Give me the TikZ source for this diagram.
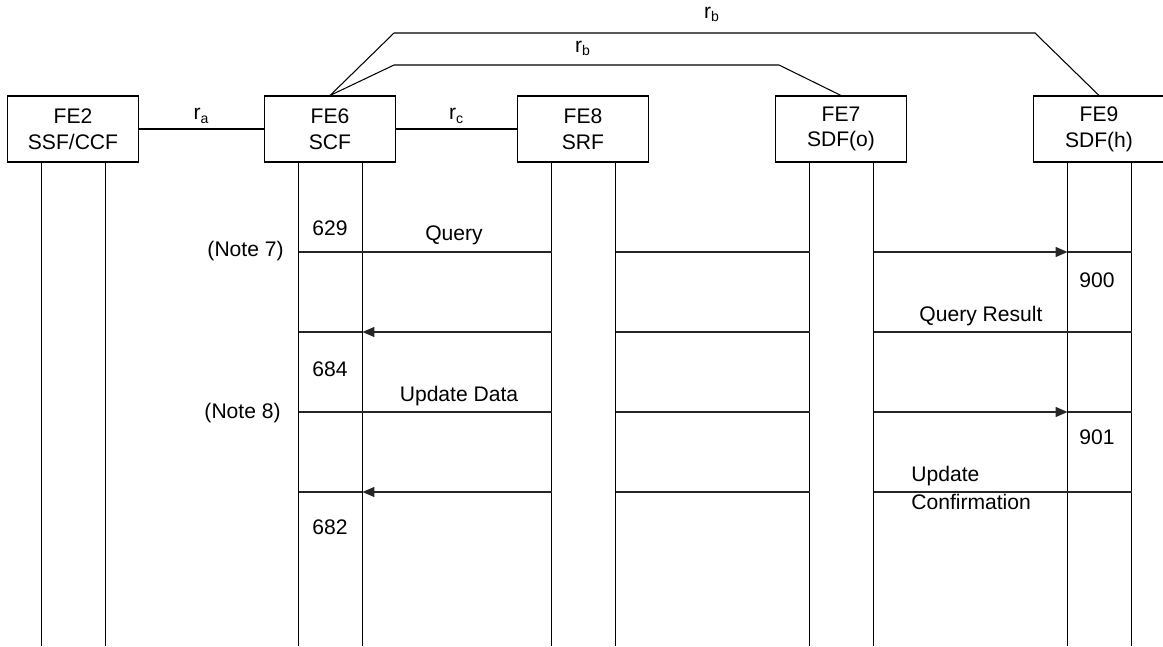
\documentclass[tikz,border=0pt]{standalone}
\usepackage{fontspec}
\setmainfont{Liberation Sans}
\usetikzlibrary{arrows.meta,positioning}

\tikzset{
  febox/.style={draw, line width=0.6pt, minimum width=2.62cm, minimum height=1.32cm,
    inner sep=0pt, align=center, font=\fontsize{12}{14.7}\selectfont},
  lbl/.style={inner sep=0pt, font=\fontsize{12}{14.7}\selectfont},
  life/.style={line width=0.6pt},
  msg/.style={line width=0.7pt, draw=black!85},
  tip/.style={msg, -{Triangle[length=6.8pt,width=5.7pt]}}
}

\begin{document}
\begin{tikzpicture}[x=0.02cm, y=-0.02cm]
  \useasboundingbox (0,0) rectangle (1163,646);
  % functional entities
  \node[febox] (fe2) at (73,129) {FE2\\SSF/CCF};
  \node[febox] (fe6) at (330,129) {FE6\\SCF};
  \node[febox] (fe8) at (583,129) {FE8\\SRF};
  \node[febox] (fe7) at (841,129) {FE7\\SDF(o)};
  \node[febox] (fe9) at (1099,129) {FE9\\SDF(h)};
  % relationships
  \draw[life] (fe2) -- (fe6) node(ra)[lbl,pos=.5,above=3pt] {r\textsubscript{a}};
  \draw[life] (fe6) -- (fe8) node(rc)[lbl,pos=.5,above=3pt] {r\textsubscript{c}};
  \draw[life] (fe6.north) -- (394,33) -- (1035,33) -- (fe9.north);
  \draw[life] (fe6.north) -- (394,65) -- (779,65) -- (fe7.north);
  \node[lbl] (rbo) at (712,14) {r\textsubscript{b}};
  \node[lbl] (rbi) at (583,48) {r\textsubscript{b}};
  % lifelines
  \foreach \n in {fe2,fe6,fe8,fe7,fe9} {
    \coordinate (\n a) at ([xshift=-0.63cm]\n.south);
    \coordinate (\n b) at ([xshift=0.65cm]\n.south);
    \draw[life] (\n a) -- (\n a |- 0,646);
    \draw[life] (\n b) -- (\n b |- 0,646);
  }
  % Query
  \draw[msg] (fe6a |- 0,252) -- (fe8a |- 0,252);
  \draw[msg] (fe8b |- 0,252) -- (fe7a |- 0,252);
  \draw[tip] (fe7b |- 0,252) -- (fe9a |- 0,252);
  \draw[msg] (fe9a |- 0,252) -- (fe9b |- 0,252);
  % Query Result
  \draw[msg] (fe6a |- 0,332) -- (fe6b |- 0,332);
  \draw[tip] (fe8a |- 0,332) -- (fe6b |- 0,332);
  \draw[msg] (fe8b |- 0,332) -- (fe7a |- 0,332);
  \draw[msg] (fe7b |- 0,332) -- (fe9b |- 0,332);
  % Update Data
  \draw[msg] (fe6a |- 0,412) -- (fe8a |- 0,412);
  \draw[msg] (fe8b |- 0,412) -- (fe7a |- 0,412);
  \draw[tip] (fe7b |- 0,412) -- (fe9a |- 0,412);
  \draw[msg] (fe9a |- 0,412) -- (fe9b |- 0,412);
  % Update Confirmation
  \draw[msg] (fe6a |- 0,492) -- (fe6b |- 0,492);
  \draw[tip] (fe8a |- 0,492) -- (fe6b |- 0,492);
  \draw[msg] (fe8b |- 0,492) -- (fe7a |- 0,492);
  \draw[msg] (fe7b |- 0,492) -- (fe9b |- 0,492);
  % labels
  \node[lbl] (n629) at (330,228) {629};
  \node[lbl,anchor=east] (note7) at (284,251) {(Note 7)};
  \node[lbl] (query) at (454,235) {Query};
  \node[lbl] (n900) at (1097,280) {900};
  \node[lbl] (qres) at (981,316) {Query Result};
  \node[lbl] (n684) at (330,369) {684};
  \node[lbl,anchor=east] (note8) at (281,413) {(Note 8)};
  \node[lbl] (upd) at (459,396) {Update Data};
  \node[lbl] (n901) at (1097,437) {901};
  \node[lbl,anchor=west,align=left,font=\fontsize{12}{15.9}\selectfont] (conf) at (911,488) {Update\\Confirmation};
  \node[lbl] (n682) at (330,527) {682};
\end{tikzpicture}
\end{document}
